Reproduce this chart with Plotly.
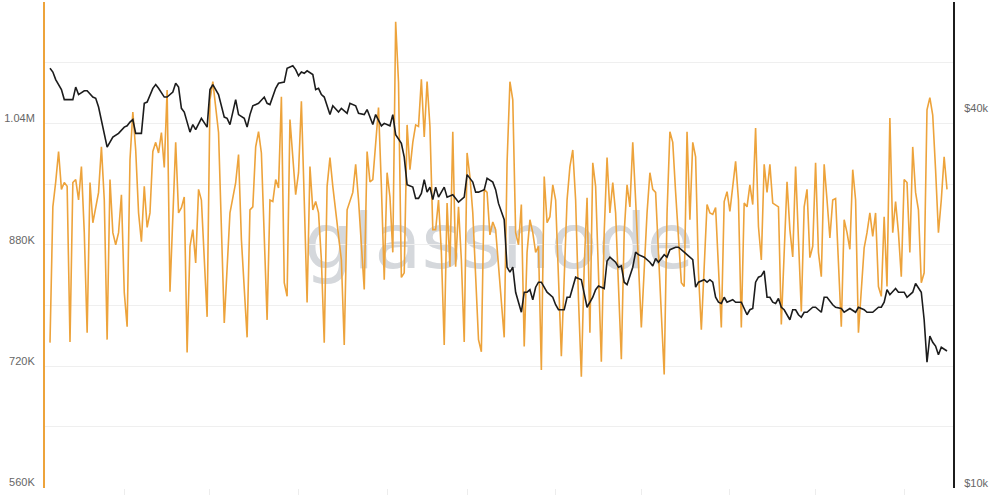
import plotly.graph_objects as go
import pandas as pd

# ---------------- data ----------------
start_date = "2021-10-06"

addr_day = [0, 1, 2, 3, 4, 5, 6, 7, 8, 9, 10, 11, 12, 13, 14, 15, 16, 17, 18, 19, 20, 21, 22, 23, 24, 25, 26, 27, 28, 29,
            30, 31, 32, 33, 34, 35, 36, 37, 38, 39, 40, 41, 42, 43, 44, 45, 46, 47, 48, 49, 50, 51, 52, 53, 55, 56, 57, 59, 60, 61,
            63, 65, 66, 67, 69, 70, 71, 72, 73, 74, 76, 77, 78, 79, 80, 81, 82, 83, 84, 86, 87, 88, 89, 90, 91, 92, 93, 94, 95, 96,
            97, 98, 99, 101, 102, 103, 104, 106, 107, 108, 110, 111, 112, 113, 115, 116, 117, 118, 119, 120, 121, 122, 123, 124, 125, 126, 127, 128, 129, 130,
            131, 132, 133, 134, 135, 136, 137, 138, 139, 140, 141, 142, 143, 144, 145, 146, 147, 148, 150, 151, 152, 153, 154, 155, 156, 159, 160, 161, 162, 163,
            164, 165, 166, 167, 168, 169, 170, 171, 172, 173, 174, 175, 176, 177, 179, 181, 182, 183, 184, 185, 186, 187, 188, 189, 190, 191, 193, 194, 195, 196,
            197, 198, 200, 201, 202, 203, 204, 205, 206, 207, 209, 210, 211, 212, 215, 216, 217, 218, 219, 221, 222, 223, 224, 225, 226, 227, 228, 230, 231, 232,
            233, 234, 235, 236, 237, 238, 240, 241, 242, 243, 244, 245, 246, 247, 248, 249, 250, 251, 252, 253, 255, 256, 258, 259, 260, 261, 262, 263, 264, 265,
            266, 267, 268, 269, 270, 271, 272, 273, 274, 275, 277, 278, 279, 280, 281, 282, 283, 285, 286, 287, 288, 289, 290, 291, 292, 293, 294, 295, 296, 297,
            298, 299, 300, 301, 302, 303, 304, 305, 306, 307, 308, 309, 310, 311, 312, 313, 314]
addr_k = [751, 930, 963, 1003, 953, 962, 957, 752, 962, 966, 939, 983, 896, 764, 962, 909, 929, 949, 1009, 939, 755, 966, 896, 880, 896, 946, 817, 772, 992, 1055,
          1005, 922, 884, 957, 903, 922, 1003, 1015, 1001, 1028, 982, 1084, 818, 922, 1015, 922, 929, 943, 738, 878, 900, 856, 953, 939, 785, 1071, 1095, 1028, 896, 777,
          922, 962, 999, 887, 758, 926, 930, 1009, 1029, 1001, 781, 939, 937, 966, 955, 1075, 830, 812, 1045, 946, 975, 1069, 939, 804, 983, 926, 937, 922, 860, 751,
          957, 995, 957, 896, 860, 748, 926, 949, 986, 939, 821, 1003, 963, 966, 1061, 957, 834, 975, 943, 870, 1174, 1094, 837, 843, 1038, 979, 1015, 1038, 1036, 1098,
          1022, 1095, 1036, 900, 900, 939, 870, 748, 935, 851, 1029, 851, 930, 860, 752, 1001, 970, 922, 755, 739, 953, 949, 893, 910, 900, 758, 988, 1095, 1071, 896,
          880, 933, 746, 870, 913, 896, 870, 878, 715, 970, 909, 917, 959, 939, 733, 939, 983, 1005, 939, 808, 706, 851, 942, 764, 988, 957, 726, 896, 995, 922,
          962, 922, 729, 896, 959, 930, 1015, 939, 851, 771, 922, 975, 953, 949, 709, 922, 1029, 1015, 949, 830, 825, 1029, 913, 1015, 996, 843, 768, 933, 922, 920,
          929, 851, 771, 937, 950, 924, 990, 939, 771, 935, 930, 959, 933, 1034, 904, 860, 986, 949, 986, 935, 930, 775, 963, 900, 864, 983, 896, 792, 930, 953,
          863, 878, 988, 870, 838, 986, 939, 889, 939, 941, 772, 913, 896, 874, 979, 939, 764, 876, 896, 922, 891, 922, 825, 812, 917, 825, 1047, 896, 937, 896,
          838, 966, 962, 870, 1009, 949, 926, 830, 843, 1058, 1074, 1051, 979, 896, 939, 996, 953]

price_day = [0, 1, 2, 4, 5, 6, 8, 9, 10, 12, 13, 15, 16, 17, 19, 20, 22, 24, 26, 27, 28, 29, 30, 32, 33, 34, 36, 37, 38, 40,
             41, 43, 44, 45, 46, 47, 49, 50, 51, 53, 55, 56, 57, 59, 61, 62, 63, 65, 66, 68, 69, 70, 71, 73, 75, 76, 77, 79, 80, 82,
             83, 85, 86, 87, 88, 89, 90, 92, 93, 94, 95, 96, 98, 99, 101, 102, 104, 105, 107, 108, 110, 111, 113, 114, 116, 117, 119, 120, 121, 123,
             124, 125, 127, 128, 129, 130, 131, 132, 133, 134, 135, 136, 138, 139, 141, 143, 145, 146, 148, 149, 150, 152, 153, 155, 156, 157, 159, 160, 161, 162,
             163, 165, 166, 167, 168, 169, 170, 171, 172, 173, 174, 176, 177, 178, 180, 181, 182, 183, 184, 186, 187, 188, 190, 191, 192, 194, 195, 196, 198, 199,
             200, 201, 202, 204, 205, 206, 208, 210, 211, 212, 213, 215, 216, 217, 219, 220, 222, 224, 225, 226, 227, 229, 230, 231, 232, 233, 234, 235, 236, 237,
             239, 240, 242, 244, 245, 246, 247, 248, 249, 250, 251, 252, 253, 254, 255, 256, 257, 259, 260, 261, 262, 263, 264, 265, 267, 268, 270, 271, 272, 274,
             275, 277, 278, 280, 282, 283, 285, 286, 288, 290, 291, 292, 293, 294, 296, 297, 299, 300, 302, 303, 304, 305, 306, 307, 308, 309, 310, 311, 312, 314]
price_k = [43.5, 43.2, 42.6, 41.8, 41.0, 41.0, 41.0, 42.0, 41.4, 41.7, 41.7, 41.2, 41.1, 40.4, 38.3, 37.2, 38.0, 38.3, 38.8, 38.9, 39.2, 39.4, 38.3, 38.3, 40.7, 40.8, 41.9, 42.2, 41.9, 41.2,
           41.2, 41.6, 42.3, 42.0, 40.3, 40.0, 38.4, 39.0, 38.6, 39.5, 38.8, 41.8, 42.2, 41.4, 39.6, 39.5, 39.0, 41.0, 39.8, 39.5, 38.8, 39.8, 40.5, 40.7, 41.2, 40.7, 40.6, 41.9, 42.3, 42.4,
           43.5, 43.7, 43.4, 42.9, 43.2, 43.1, 43.3, 43.0, 41.8, 41.9, 41.4, 41.2, 39.8, 40.5, 40.0, 40.3, 39.9, 40.7, 40.5, 39.9, 39.8, 40.2, 39.0, 39.8, 38.9, 39.1, 38.9, 39.8, 38.2, 37.5,
           36.4, 34.2, 34.0, 33.1, 33.1, 33.5, 34.6, 33.6, 34.0, 33.0, 34.0, 33.2, 34.0, 33.2, 33.4, 32.8, 33.2, 35.0, 34.4, 33.6, 33.6, 33.8, 34.7, 34.4, 33.8, 32.7, 31.4, 27.6, 27.2, 27.6,
           25.6, 24.0, 25.6, 25.6, 25.8, 25.0, 26.0, 26.4, 26.4, 26.0, 25.6, 25.2, 24.6, 24.2, 24.2, 25.2, 25.2, 26.0, 26.8, 26.6, 25.6, 24.4, 25.2, 25.8, 26.1, 25.9, 28.1, 28.4, 28.0, 27.6,
           27.7, 26.4, 26.2, 27.6, 28.8, 28.6, 28.4, 28.0, 27.7, 28.3, 28.0, 28.6, 28.4, 29.0, 29.2, 29.2, 28.8, 28.4, 28.2, 26.0, 26.4, 26.6, 26.4, 26.6, 26.4, 25.2, 24.8, 24.7, 25.2, 24.8,
           25.0, 24.8, 24.8, 23.8, 24.2, 24.3, 26.4, 26.8, 26.9, 27.3, 25.2, 25.2, 24.8, 24.7, 25.1, 24.4, 24.2, 23.4, 24.2, 24.2, 23.8, 23.6, 24.0, 24.0, 24.4, 24.4, 24.0, 25.2, 25.2, 24.6,
           24.4, 24.3, 24.0, 24.3, 24.0, 24.4, 24.2, 24.0, 24.0, 24.4, 24.4, 24.8, 25.8, 25.4, 25.9, 25.6, 25.6, 25.2, 25.6, 26.3, 26.0, 25.6, 23.4, 20.0, 22.1, 21.6, 21.3, 20.6, 21.2, 20.9]

left_tick_values = [560000, 640000, 720000, 800000, 880000, 960000, 1040000, 1120000, 1200000]
left_tick_labels = ["560K", "", "720K", "", "880K", "", "1.04M", "", ""]
right_tick_values = [10000, 40000]
right_tick_labels = ["$10k", "$40k"]

# ---------------- figure ----------------
start = pd.Timestamp(start_date)
x_addr = start + pd.to_timedelta(addr_day, unit="D")
y_addr = [v * 1000 for v in addr_k]
x_price = start + pd.to_timedelta(price_day, unit="D")
y_price = [v * 1000 for v in price_k]

ORANGE = "#eda33b"
BLACK = "#1c1c1c"

fig = go.Figure()
fig.add_trace(go.Scatter(x=x_addr, y=y_addr, mode="lines", name="Active addresses",
                         line=dict(color=ORANGE, width=1.6), yaxis="y", hoverinfo="skip"))
fig.add_trace(go.Scatter(x=x_price, y=y_price, mode="lines", name="Price",
                         line=dict(color=BLACK, width=1.6), yaxis="y2", hoverinfo="skip"))

x0 = start - pd.Timedelta(days=1.75)
x1 = start + pd.Timedelta(days=316.1)

fig.update_layout(
    width=1000, height=496,
    margin=dict(l=45, r=47, t=2, b=8, autoexpand=False),
    paper_bgcolor="white", plot_bgcolor="white",
    showlegend=False,
    font=dict(family="Liberation Sans, Arial, sans-serif", size=11, color="#666666"),
    xaxis=dict(range=[x0, x1], showgrid=False, zeroline=False, showline=False,
               showticklabels=False, ticks="outside", ticklen=6, tickcolor="#ededed",
               tick0="2021-11-01", dtick="M1", automargin=False),
    yaxis=dict(range=[559400, 1200000], tickmode="array", tickvals=left_tick_values,
               ticktext=left_tick_labels, showgrid=True, gridcolor="#efefef", gridwidth=1,
               zeroline=False, showline=True, linecolor=ORANGE, linewidth=2,
               ticks="", ticklabelstandoff=6, ticklabelshift=-5, automargin=False,
               ticklabeloverflow="allow",
               tickfont=dict(size=11, color="#666666")),
    yaxis2=dict(range=[9950, 48800], overlaying="y", side="right", tickmode="array",
                tickvals=right_tick_values, ticktext=right_tick_labels, showgrid=False,
                zeroline=False, showline=True, linecolor=BLACK, linewidth=2,
                ticks="", ticklabelstandoff=7, ticklabelshift=-4, automargin=False,
                ticklabeloverflow="allow",
                tickfont=dict(size=11, color="#666666")),
)

# watermark, drawn beneath the lines
fig.add_shape(type="rect", xref="paper", yref="paper", x0=0.25, x1=0.75, y0=0.37, y1=0.67,
              layer="below", line=dict(width=0), fillcolor="rgba(0,0,0,0)",
              label=dict(text="glassnode", textposition="middle center",
                         font=dict(family="DejaVu Sans", size=77, color="#d5d8dc")))

fig.write_html("out.html",
               config={"displayModeBar": False, "staticPlot": True},
               post_script="document.body.style.margin='0';document.body.style.padding='0';"
                           "document.body.style.overflow='hidden';")
